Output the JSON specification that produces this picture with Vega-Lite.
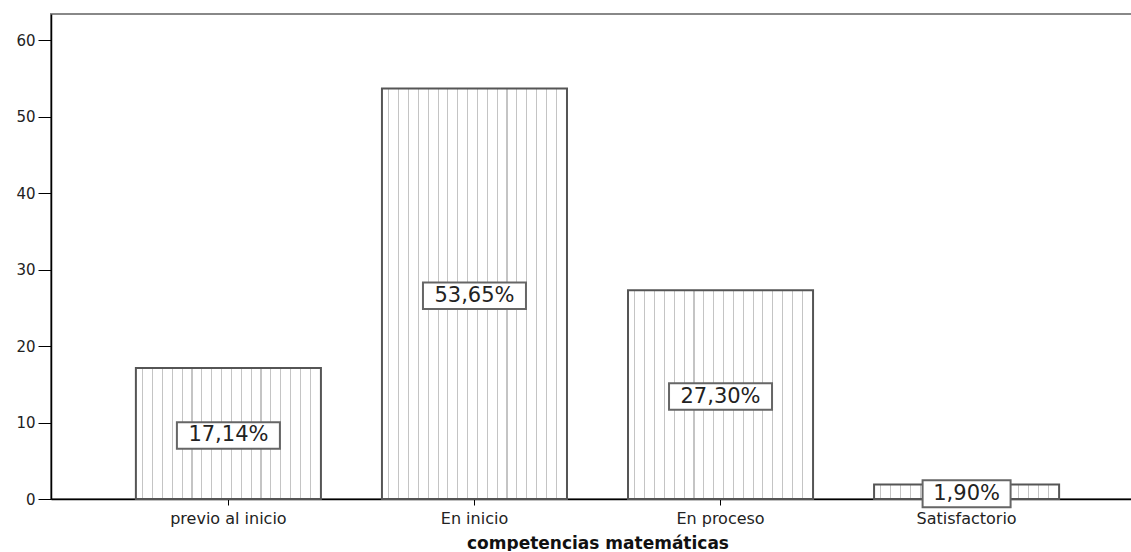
{
  "$schema": "https://vega.github.io/schema/vega-lite/v6.json",
  "width": 1093,
  "height": 485,
  "padding": {"left": 15, "top": 14, "right": 0, "bottom": 0},
  "background": "white",
  "config": {
    "view": {"stroke": "#888888", "strokeWidth": 2},
    "font": "DejaVu Sans"
  },
  "data": {
    "values": [
      {"cat": "previo al inicio", "value": 17.14, "label": "17,14%"},
      {"cat": "En inicio", "value": 53.65, "label": "53,65%"},
      {"cat": "En proceso", "value": 27.30, "label": "27,30%"},
      {"cat": "Satisfactorio", "value": 1.90, "label": "1,90%"}
    ]
  },
  "encoding": {
    "x": {
      "field": "cat",
      "type": "nominal",
      "sort": null,
      "scale": {"paddingInner": 0.248, "paddingOuter": 0.345},
      "axis": {
        "title": "competencias matemáticas",
        "labelAngle": 0,
        "labelFont": "DejaVu Sans",
        "labelFontSize": 16,
        "labelColor": "#222222",
        "labelPadding": 5,
        "tickSize": 6,
        "tickColor": "#000000",
        "domainColor": "#000000",
        "domainWidth": 1.5,
        "titleFont": "DejaVu Sans",
        "titleFontSize": 17,
        "titleFontWeight": "bold",
        "titleColor": "#111111",
        "titlePadding": 9
      }
    }
  },
  "layer": [
    {
      "mark": {
        "type": "bar",
        "stroke": "#555555",
        "strokeWidth": 2,
        "fill": {
          "gradient": "linear",
          "x1": 0, "x2": 1, "y1": 0, "y2": 0,
          "stops": [
            {"offset": 0, "color": "#ffffff"},
            {"offset": 0.0341, "color": "#ffffff"}, {"offset": 0.0341, "color": "#c4c4c4"}, {"offset": 0.0401, "color": "#c4c4c4"}, {"offset": 0.0401, "color": "#ffffff"},
            {"offset": 0.0873, "color": "#ffffff"}, {"offset": 0.0873, "color": "#c4c4c4"}, {"offset": 0.0933, "color": "#c4c4c4"}, {"offset": 0.0933, "color": "#ffffff"},
            {"offset": 0.1405, "color": "#ffffff"}, {"offset": 0.1405, "color": "#c4c4c4"}, {"offset": 0.1465, "color": "#c4c4c4"}, {"offset": 0.1465, "color": "#ffffff"},
            {"offset": 0.1938, "color": "#ffffff"}, {"offset": 0.1938, "color": "#c4c4c4"}, {"offset": 0.1998, "color": "#c4c4c4"}, {"offset": 0.1998, "color": "#ffffff"},
            {"offset": 0.2470, "color": "#ffffff"}, {"offset": 0.2470, "color": "#c4c4c4"}, {"offset": 0.2530, "color": "#c4c4c4"}, {"offset": 0.2530, "color": "#ffffff"},
            {"offset": 0.3003, "color": "#ffffff"}, {"offset": 0.3003, "color": "#c4c4c4"}, {"offset": 0.3063, "color": "#c4c4c4"}, {"offset": 0.3063, "color": "#ffffff"},
            {"offset": 0.3535, "color": "#ffffff"}, {"offset": 0.3535, "color": "#c4c4c4"}, {"offset": 0.3595, "color": "#c4c4c4"}, {"offset": 0.3595, "color": "#ffffff"},
            {"offset": 0.4068, "color": "#ffffff"}, {"offset": 0.4068, "color": "#c4c4c4"}, {"offset": 0.4128, "color": "#c4c4c4"}, {"offset": 0.4128, "color": "#ffffff"},
            {"offset": 0.4600, "color": "#ffffff"}, {"offset": 0.4600, "color": "#c4c4c4"}, {"offset": 0.4660, "color": "#c4c4c4"}, {"offset": 0.4660, "color": "#ffffff"},
            {"offset": 0.5132, "color": "#ffffff"}, {"offset": 0.5132, "color": "#c4c4c4"}, {"offset": 0.5192, "color": "#c4c4c4"}, {"offset": 0.5192, "color": "#ffffff"},
            {"offset": 0.5665, "color": "#ffffff"}, {"offset": 0.5665, "color": "#c4c4c4"}, {"offset": 0.5725, "color": "#c4c4c4"}, {"offset": 0.5725, "color": "#ffffff"},
            {"offset": 0.6197, "color": "#ffffff"}, {"offset": 0.6197, "color": "#c4c4c4"}, {"offset": 0.6257, "color": "#c4c4c4"}, {"offset": 0.6257, "color": "#ffffff"},
            {"offset": 0.6730, "color": "#ffffff"}, {"offset": 0.6730, "color": "#c4c4c4"}, {"offset": 0.6790, "color": "#c4c4c4"}, {"offset": 0.6790, "color": "#ffffff"},
            {"offset": 0.7262, "color": "#ffffff"}, {"offset": 0.7262, "color": "#c4c4c4"}, {"offset": 0.7322, "color": "#c4c4c4"}, {"offset": 0.7322, "color": "#ffffff"},
            {"offset": 0.7795, "color": "#ffffff"}, {"offset": 0.7795, "color": "#c4c4c4"}, {"offset": 0.7855, "color": "#c4c4c4"}, {"offset": 0.7855, "color": "#ffffff"},
            {"offset": 0.8327, "color": "#ffffff"}, {"offset": 0.8327, "color": "#c4c4c4"}, {"offset": 0.8387, "color": "#c4c4c4"}, {"offset": 0.8387, "color": "#ffffff"},
            {"offset": 0.8859, "color": "#ffffff"}, {"offset": 0.8859, "color": "#c4c4c4"}, {"offset": 0.8919, "color": "#c4c4c4"}, {"offset": 0.8919, "color": "#ffffff"},
            {"offset": 0.9392, "color": "#ffffff"}, {"offset": 0.9392, "color": "#c4c4c4"}, {"offset": 0.9452, "color": "#c4c4c4"}, {"offset": 0.9452, "color": "#ffffff"},
            {"offset": 1, "color": "#ffffff"}
          ]
        }
      },
      "encoding": {
        "y": {
          "field": "value",
          "type": "quantitative",
          "scale": {"domain": [0, 63.4], "nice": false, "zero": true},
          "axis": {
            "title": null,
            "values": [0, 10, 20, 30, 40, 50, 60],
            "grid": false,
            "tickSize": 13,
            "tickColor": "#000000",
            "domainColor": "#000000",
            "domainWidth": 1.5,
            "labelPadding": 3,
            "labelFont": "DejaVu Sans",
            "labelFontSize": 15,
            "labelColor": "#222222"
          }
        }
      }
    },
    {
      "mark": {
        "type": "point",
        "filled": true,
        "fill": "#ffffff",
        "stroke": "#666666",
        "strokeWidth": 2,
        "opacity": 1,
        "fillOpacity": 1,
        "strokeOpacity": 1,
        "yOffset": 2
      },
      "encoding": {
        "y": {
          "field": "value",
          "type": "quantitative",
          "scale": {"domain": [0, 126.8], "nice": false, "zero": true},
          "axis": null
        },
        "shape": {
          "condition": {"test": "datum.value < 10", "value": "M-1,-0.307H1V0.307H-1Z"},
          "value": "M-1,-0.257H1V0.257H-1Z"
        },
        "size": {
          "condition": {"test": "datum.value < 10", "value": 7744},
          "value": 10609
        }
      }
    },
    {
      "mark": {
        "type": "text",
        "font": "DejaVu Sans",
        "fontSize": 21,
        "color": "#222222",
        "align": "center",
        "baseline": "middle",
        "yOffset": 2
      },
      "encoding": {
        "y": {
          "field": "value",
          "type": "quantitative",
          "scale": {"domain": [0, 126.8], "nice": false, "zero": true},
          "axis": null
        },
        "text": {"field": "label", "type": "nominal"}
      }
    }
  ],
  "resolve": {"scale": {"y": "independent"}, "axis": {"y": "independent"}}
}
